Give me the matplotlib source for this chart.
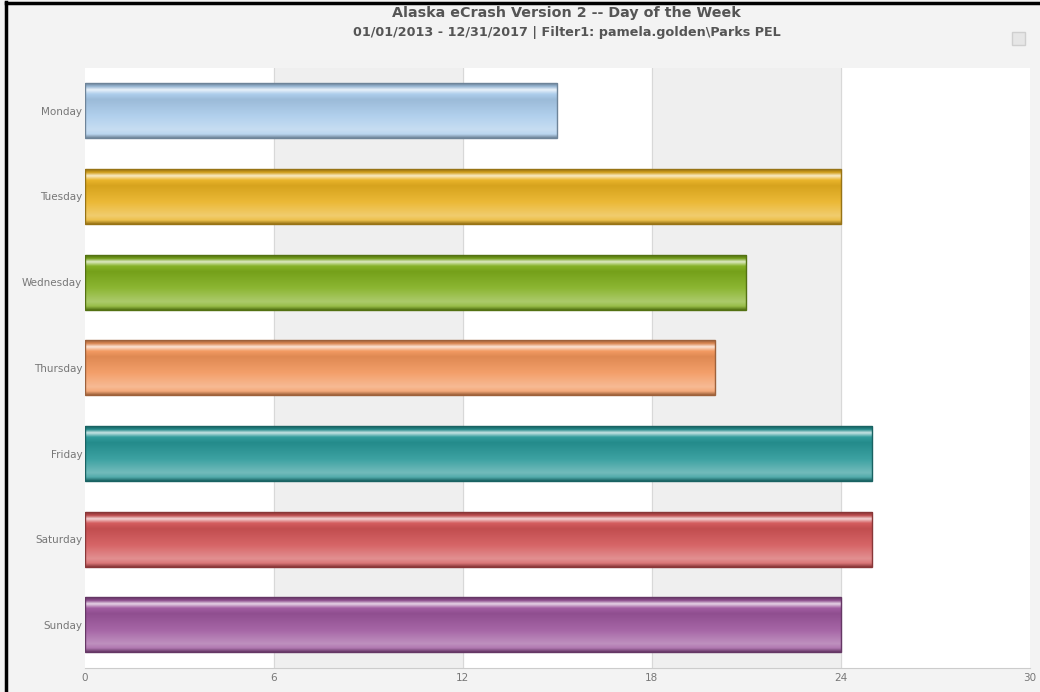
import numpy as np
import matplotlib.pyplot as plt
from matplotlib.colors import LinearSegmentedColormap, to_rgb
from matplotlib.lines import Line2D
from matplotlib.patches import Rectangle

days = ["Monday", "Tuesday", "Wednesday", "Thursday", "Friday", "Saturday", "Sunday"]
counts = [15, 24, 21, 20, 25, 25, 24]
bar_colors = ["#a9cbeb", "#e9b120", "#7fae1c", "#f2955a", "#279797", "#d25456", "#9c559c"]
x_ticks = [0, 6, 12, 18, 24, 30]

title = "Alaska eCrash Version 2 -- Day of the Week"
subtitle = "01/01/2013 - 12/31/2017 | Filter1: pamela.golden\\Parks PEL"


def shade(c, f):
    r = np.array(to_rgb(c))
    if f < 0:
        return tuple(r * (1 + f))
    return tuple(r + (1 - r) * f)


def gloss_cmap(c):
    # top -> bottom stops of a glossy bar
    stops = [(0.0, shade(c, -0.35)), (0.06, shade(c, -0.1)), (0.12, shade(c, 0.75)),
             (0.2, shade(c, 0.05)), (0.3, shade(c, -0.08)), (0.6, shade(c, 0.1)),
             (0.85, shade(c, 0.35)), (0.93, shade(c, 0.2)), (1.0, shade(c, -0.35))]
    return LinearSegmentedColormap.from_list("g", stops)


fig = plt.figure(figsize=(10.4, 6.92), dpi=100)
fig.patch.set_facecolor("#f3f3f3")
ax = fig.add_axes([0.0817, 0.035, 0.9085, 0.867])
ax.set_facecolor("white")

ypos = np.arange(len(days))

# alternating bands
for i in range(len(x_ticks) - 1):
    if i % 2 == 1:
        ax.axvspan(x_ticks[i], x_ticks[i + 1], color="#efefef", zorder=0)
for t in x_ticks[1:-1]:
    ax.axvline(t, color="#d8d8d8", lw=0.8, zorder=0.5)

bars = ax.barh(ypos, counts, height=0.64, color="none", zorder=2)
grad = np.linspace(0, 1, 256).reshape(-1, 1)
for b, c in zip(bars, bar_colors):
    x0, y0, w, h = b.get_x(), b.get_y(), b.get_width(), b.get_height()
    im = ax.imshow(grad, cmap=gloss_cmap(c), aspect="auto", extent=(x0, x0 + w, y0 + h, y0),
                   origin="upper", zorder=2, interpolation="bilinear")
    im.set_clip_path(b)
    b.set_edgecolor(shade(c, -0.35))
    b.set_linewidth(1.0)
    b.set_zorder(3)

ax.set_yticks(ypos)
ax.set_yticklabels(days)
ax.set_xticks(x_ticks)
ax.tick_params(axis="both", length=0, labelsize=7.5, labelcolor="#777777")
ax.tick_params(axis="y", pad=2)
ax.tick_params(axis="x", pad=4)
for s in ["top", "right", "left"]:
    ax.spines[s].set_visible(False)
ax.spines["bottom"].set_color("#cccccc")
ax.set_xlim(0, 30)
ax.set_ylim(len(days) - 0.5, -0.5)

fig.text(0.545, 0.991, title, ha="center", va="top", fontsize=10.3, fontweight="bold", color="#555555")
fig.text(0.545, 0.963, subtitle, ha="center", va="top", fontsize=9.2, fontweight="bold", color="#555555")

# small menu icon
fig.patches.append(Rectangle((0.973, 0.935), 0.013, 0.019, transform=fig.transFigure,
                             facecolor="#e6e6e6", edgecolor="#cfcfcf", lw=1))

# frame lines
fig.add_artist(Line2D([0.006, 0.006], [0, 0.997], color="black", lw=2.5, transform=fig.transFigure))
fig.add_artist(Line2D([0.006, 1], [0.996, 0.996], color="black", lw=2.5, transform=fig.transFigure))

fig.savefig("out.png", dpi=100)
